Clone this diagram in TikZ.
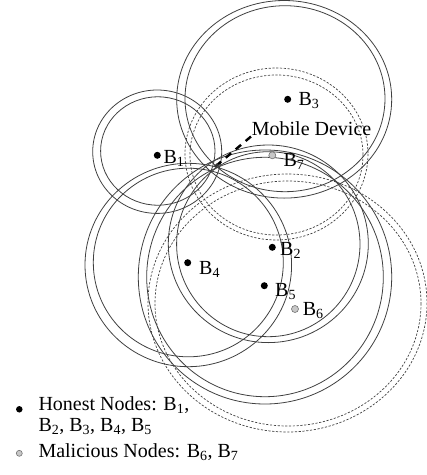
\documentclass[tikz,border=0pt]{standalone}
\usepackage{fontspec}
\usetikzlibrary{calc}
\setmainfont{Liberation Serif}
\newcommand\lowidx[1]{\textsubscript{#1}}
\begin{document}
\begin{tikzpicture}[x=1pt,y=-1pt,
  ring/.style={draw=black!75, line width=0.8pt},
  dring/.style={draw=black!75, line width=0.7pt, dash pattern=on 2.2pt off 1.6pt},
  honest/.style={circle, fill=black, inner sep=0pt, minimum size=7pt},
  malicious/.style={circle, fill=black!22, draw=black!55, line width=0.6pt, inner sep=0pt, minimum size=7pt},
  lbl/.style={anchor=base west, inner sep=0pt, font=\fontsize{20}{24}\selectfont},
  leader/.style={line width=2.4pt, dash pattern=on 7pt off 6pt}]
\useasboundingbox (0,0) rectangle (427,475);
% honest rings
\draw[ring] (157.2,151.7) ellipse [x radius=64.5, y radius=61.7];
\draw[ring] (157.8,151.0) ellipse [x radius=57.2, y radius=54.2];
\draw[ring] (284.2,99.3) ellipse [x radius=107.5, y radius=98.8];
\draw[ring] (285.0,98.7) ellipse [x radius=100.0, y radius=93.0];
\draw[ring] (188.3,265.0) ellipse [x radius=103.3, y radius=101.7];
\draw[ring] (188.3,262.5) ellipse [x radius=95.0, y radius=94.3];
\draw[ring] (268.3,243.8) ellipse [x radius=100.0, y radius=98.8];
\draw[ring] (268.3,244.2) ellipse [x radius=91.7, y radius=92.5];
\draw[ring] (265.0,277.0) ellipse [x radius=126.7, y radius=127.0];
\draw[ring] (265.0,277.0) ellipse [x radius=118.3, y radius=119.7];
% malicious rings
\draw[dring] (276.5,154.0) ellipse [x radius=91.5, y radius=86.0];
\draw[dring] (276.5,155.0) ellipse [x radius=86.5, y radius=80.0];
\draw[dring] (287.5,303.0) ellipse [x radius=139.5, y radius=129.0];
\draw[dring] (288.0,303.5) ellipse [x radius=133.0, y radius=122.5];
% nodes
\node[honest] (b1) at (157.3,155.3) {};
\node[honest] (b2) at (272.3,247.3) {};
\node[honest] (b3) at (287.7,99.3) {};
\node[honest] (b4) at (187.7,262.7) {};
\node[honest] (b5) at (264.3,285.7) {};
\node[malicious] (b6) at (295.0,309.0) {};
\node[malicious] (b7) at (272.3,155.3) {};
\node[lbl] (l1) at (163.3,163.3) {B\lowidx{1}};
\node[lbl] (l2) at (280.0,255.0) {B\lowidx{2}};
\node[lbl] (l3) at (298.3,105.3) {B\lowidx{3}};
\node[lbl] (l4) at (199.0,274.3) {B\lowidx{4}};
\node[lbl] (l5) at (275.0,296.7) {B\lowidx{5}};
\node[lbl] (l6) at (302.7,315.7) {B\lowidx{6}};
\node[lbl] (l7) at (283.3,166.7) {B\lowidx{7}};
% mobile device
\coordinate (md) at (216.5,165.5);
\node[lbl] (mdl) at (251.7,135.7) {Mobile Device};
\coordinate (mds) at (251.0,136.5);
\draw[leader] (mds) -- (md);
\fill[black!80, rotate around={40:(md)}] ($(md)+(-2.2,-1.4)$) rectangle ($(md)+(2.2,1.4)$);
% legend
\node[honest, minimum size=6.5pt] (hk) at (19.3,409.3) {};
\node[lbl] (ht1) at (38.3,410.7) {Honest Nodes: B\lowidx{1},};
\node[lbl] (ht2) at (38.3,431.7) {B\lowidx{2}, B\lowidx{3}, B\lowidx{4}, B\lowidx{5}};
\node[malicious, minimum size=6pt] (mk) at (19.3,453.3) {};
\node[lbl] (mt) at (38.3,457.3) {Malicious Nodes: B\lowidx{6}, B\lowidx{7}};
\end{tikzpicture}
\end{document}
